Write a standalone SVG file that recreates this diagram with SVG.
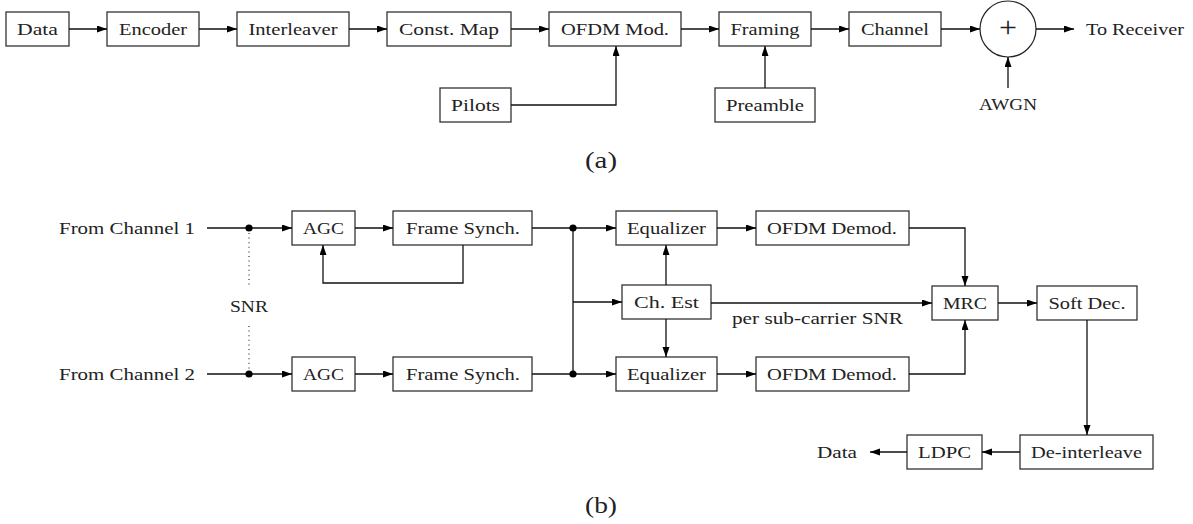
<svg xmlns="http://www.w3.org/2000/svg" width="1193" height="524" viewBox="0 0 1193 524">
  <style>
    .box { fill: #fff; stroke: #333; stroke-width: 1.3; }
    .ln { fill: none; stroke: #111; stroke-width: 1.3; }
    .arr { marker-end: url(#head); }
    .dot { fill: #000; }
    .dots { fill: none; stroke: #333; stroke-width: 1.2; stroke-dasharray: 1 3.6; }
    .t { font-family: "Liberation Serif", "Times New Roman", serif; font-size: 17px; fill: #222; text-anchor: middle; }
    .s { text-anchor: start; }
    .cap { font-size: 24px; }
    .plus { font-size: 30px; }
  </style>
  <defs>
    <marker id="head" markerUnits="userSpaceOnUse" markerWidth="10" markerHeight="8" refX="10" refY="3.5" orient="auto">
      <path d="M0,0 L10,3.5 L0,7 z" fill="#000"/>
    </marker>
  </defs>

  <!-- (a) transmitter chain -->
  <g id="tx-data"><rect class="box" x="6" y="12" width="63" height="34"/><text class="t" x="37.5" y="35" textLength="41" lengthAdjust="spacingAndGlyphs">Data</text></g>
  <g id="tx-encoder"><rect class="box" x="107" y="12" width="92" height="34"/><text class="t" x="153" y="35" textLength="68" lengthAdjust="spacingAndGlyphs">Encoder</text></g>
  <g id="tx-interleaver"><rect class="box" x="237" y="12" width="112" height="34"/><text class="t" x="293" y="35" textLength="89" lengthAdjust="spacingAndGlyphs">Interleaver</text></g>
  <g id="tx-constmap"><rect class="box" x="387" y="12" width="124" height="34"/><text class="t" x="449" y="35" textLength="100" lengthAdjust="spacingAndGlyphs">Const.  Map</text></g>
  <g id="tx-ofdmmod"><rect class="box" x="549" y="12" width="132" height="34"/><text class="t" x="615" y="35" textLength="108" lengthAdjust="spacingAndGlyphs">OFDM Mod.</text></g>
  <g id="tx-framing"><rect class="box" x="719" y="12" width="92" height="34"/><text class="t" x="765" y="35" textLength="69" lengthAdjust="spacingAndGlyphs">Framing</text></g>
  <g id="tx-channel"><rect class="box" x="849" y="12" width="92" height="34"/><text class="t" x="895" y="35" textLength="68" lengthAdjust="spacingAndGlyphs">Channel</text></g>
  <g id="tx-pilots"><rect class="box" x="440" y="88" width="71" height="34"/><text class="t" x="475.5" y="111" textLength="49" lengthAdjust="spacingAndGlyphs">Pilots</text></g>
  <g id="tx-preamble"><rect class="box" x="715" y="88" width="100" height="34"/><text class="t" x="765" y="111" textLength="78" lengthAdjust="spacingAndGlyphs">Preamble</text></g>
  <g id="tx-adder"><circle cx="1008" cy="29" r="28" fill="#fff" stroke="#222" stroke-width="1.2"/><text class="t plus" x="1008" y="37" textLength="18" lengthAdjust="spacingAndGlyphs">+</text></g>
  <g id="tx-awgn"><text class="t" x="1008" y="110" textLength="58" lengthAdjust="spacingAndGlyphs">AWGN</text></g>
  <g id="tx-out"><text class="t s" x="1086" y="35" textLength="98" lengthAdjust="spacingAndGlyphs">To Receiver</text></g>
  <g id="label-a"><text class="t cap" x="601" y="168" textLength="32" lengthAdjust="spacingAndGlyphs">(a)</text></g>

  <!-- (b) receiver chain -->
  <g id="rx-in1"><text class="t s" x="59" y="234" textLength="136" lengthAdjust="spacingAndGlyphs">From Channel 1</text></g>
  <g id="rx-in2"><text class="t s" x="59" y="380" textLength="136" lengthAdjust="spacingAndGlyphs">From Channel 2</text></g>
  <g id="rx-snr"><text class="t" x="249" y="312" textLength="38" lengthAdjust="spacingAndGlyphs">SNR</text></g>
  <g id="rx-agc1"><rect class="box" x="292" y="211" width="63" height="34"/><text class="t" x="323.5" y="234" textLength="41" lengthAdjust="spacingAndGlyphs">AGC</text></g>
  <g id="rx-agc2"><rect class="box" x="292" y="357" width="63" height="34"/><text class="t" x="323.5" y="380" textLength="41" lengthAdjust="spacingAndGlyphs">AGC</text></g>
  <g id="rx-sync1"><rect class="box" x="393" y="211" width="139" height="34"/><text class="t" x="463" y="234" textLength="114" lengthAdjust="spacingAndGlyphs">Frame Synch.</text></g>
  <g id="rx-sync2"><rect class="box" x="393" y="357" width="139" height="34"/><text class="t" x="463" y="380" textLength="114" lengthAdjust="spacingAndGlyphs">Frame Synch.</text></g>
  <g id="rx-eq1"><rect class="box" x="616" y="211" width="101" height="34"/><text class="t" x="666.5" y="234" textLength="79" lengthAdjust="spacingAndGlyphs">Equalizer</text></g>
  <g id="rx-eq2"><rect class="box" x="616" y="357" width="101" height="34"/><text class="t" x="666.5" y="380" textLength="79" lengthAdjust="spacingAndGlyphs">Equalizer</text></g>
  <g id="rx-chest"><rect class="box" x="622" y="285" width="89" height="34"/><text class="t" x="666.5" y="308" textLength="65" lengthAdjust="spacingAndGlyphs">Ch.  Est</text></g>
  <g id="rx-demod1"><rect class="box" x="756" y="211" width="153" height="34"/><text class="t" x="832" y="234" textLength="130" lengthAdjust="spacingAndGlyphs">OFDM Demod.</text></g>
  <g id="rx-demod2"><rect class="box" x="756" y="357" width="153" height="34"/><text class="t" x="832" y="380" textLength="130" lengthAdjust="spacingAndGlyphs">OFDM Demod.</text></g>
  <g id="rx-mrc"><rect class="box" x="932" y="286" width="66" height="34"/><text class="t" x="965" y="309" textLength="44" lengthAdjust="spacingAndGlyphs">MRC</text></g>
  <g id="rx-softdec"><rect class="box" x="1037" y="286" width="100" height="34"/><text class="t" x="1087" y="309" textLength="77" lengthAdjust="spacingAndGlyphs">Soft Dec.</text></g>
  <g id="rx-deint"><rect class="box" x="1020" y="435" width="133" height="34"/><text class="t" x="1086.5" y="458" textLength="111" lengthAdjust="spacingAndGlyphs">De-interleave</text></g>
  <g id="rx-ldpc"><rect class="box" x="907" y="435" width="75" height="34"/><text class="t" x="944.5" y="458" textLength="53" lengthAdjust="spacingAndGlyphs">LDPC</text></g>
  <g id="rx-out"><text class="t" x="837" y="458" textLength="40" lengthAdjust="spacingAndGlyphs">Data</text></g>
  <g id="rx-snr-label"><text class="t s" x="732" y="324" textLength="171" lengthAdjust="spacingAndGlyphs">per sub-carrier SNR</text></g>
  <g id="label-b"><text class="t cap" x="601" y="513" textLength="32" lengthAdjust="spacingAndGlyphs">(b)</text></g>

  <g id="connectors">
    <!-- (a) -->
    <path class="ln arr" d="M69,29 H107"/>
    <path class="ln arr" d="M199,29 H237"/>
    <path class="ln arr" d="M349,29 H387"/>
    <path class="ln arr" d="M511,29 H549"/>
    <path class="ln arr" d="M681,29 H719"/>
    <path class="ln arr" d="M811,29 H849"/>
    <path class="ln arr" d="M941,29 H980"/>
    <path class="ln arr" d="M1036,29 H1074"/>
    <path class="ln arr" d="M511,105 H616 V46"/>
    <path class="ln arr" d="M765,88 V46"/>
    <path class="ln arr" d="M1008,88 V57"/>

    <!-- (b) inputs -->
    <path class="ln arr" d="M207,228 H292"/>
    <path class="ln arr" d="M207,374 H292"/>
    <circle class="dot" cx="249" cy="228" r="3.6"/>
    <circle class="dot" cx="249" cy="374" r="3.6"/>
    <path class="dots" d="M249,233 V286"/>
    <path class="dots" d="M249,326 V370"/>

    <path class="ln arr" d="M355,228 H393"/>
    <path class="ln arr" d="M355,374 H393"/>
    <path class="ln arr" d="M463,245 V283 H323 V245"/>

    <path class="ln arr" d="M532,228 H616"/>
    <path class="ln arr" d="M532,374 H616"/>
    <path class="ln" d="M573,228 V374"/>
    <circle class="dot" cx="573" cy="228" r="3.6"/>
    <circle class="dot" cx="573" cy="374" r="3.6"/>
    <path class="ln arr" d="M573,302 H622"/>
    <path class="ln arr" d="M666,285 V245"/>
    <path class="ln arr" d="M666,319 V357"/>

    <path class="ln arr" d="M717,228 H756"/>
    <path class="ln arr" d="M717,374 H756"/>
    <path class="ln arr" d="M909,228 H965 V286"/>
    <path class="ln arr" d="M909,374 H965 V320"/>
    <path class="ln arr" d="M711,303 H932"/>
    <path class="ln arr" d="M998,303 H1037"/>
    <path class="ln arr" d="M1087,320 V435"/>
    <path class="ln arr" d="M1020,452 H982"/>
    <path class="ln arr" d="M907,452 H870"/>
  </g>
</svg>
